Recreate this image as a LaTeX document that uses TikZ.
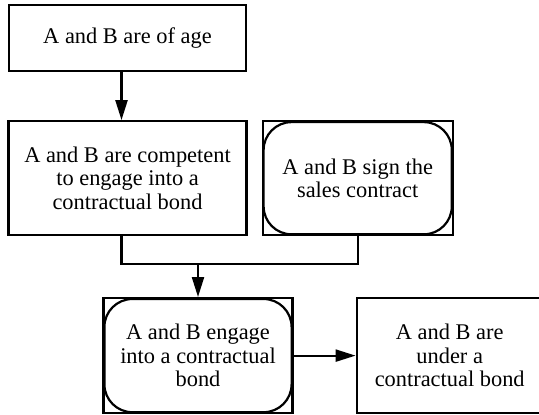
\documentclass[tikz,border=0pt]{standalone}
\usepackage{fontspec}
\setmainfont{Liberation Serif}
\newfontfamily\timesfont{Liberation Serif}
\usetikzlibrary{arrows.meta,positioning}
\tikzset{
        block/.style = {draw, rectangle, line width=1.1pt,
            align=center, inner sep=2pt,
            font=\timesfont\fontsize{11.2}{11.8}\selectfont},
        arrow/.style = {draw, line width=1.1pt,
            -{Triangle[length=10pt,width=6pt]}},
        inner/.style = {draw, line width=1.1pt, rounded corners=14pt},
    }

\begin{document}
\begin{tikzpicture}[x=0.5pt,y=-0.5pt]
        \useasboundingbox (0,0) rectangle (539,414);

        \node[block, minimum width=118.5pt, minimum height=33pt] (age) at (127.5,38) {A and B are of age};
        \node[block, below=24pt of age, minimum width=119pt, minimum height=57pt] (competent)
            {A and B are competent\\ to engage into a\\ contractual bond};
        \node[block, right=7pt of competent, minimum width=95pt, minimum height=57pt] (sign)
            {A and B sign the\\ sales contract};

        \coordinate (merge) at (198,264);

        \node[block, below=16.5pt of merge, minimum width=94.5pt, minimum height=57.5pt] (engage)
            {A and B engage\\ into a contractual\\ bond};
        \node[block, right=31pt of engage, minimum width=93pt, minimum height=57.5pt] (bond)
            {A and B are\\ under a\\ contractual bond};

        % rounded inner outlines
        \foreach \n in {sign,engage}
            \draw[inner] ([xshift=1pt,yshift=-1pt]\n.north west) rectangle ([xshift=-1pt,yshift=1pt]\n.south east);

        \draw[arrow] ([xshift=-3pt]age.south) -- ([xshift=-3pt]competent.north);
        \draw[line width=1.1pt] ([xshift=-3pt]competent.south) |- (merge) -| (sign.south);
        \draw[arrow] (merge) -- (engage);
        \draw[arrow] (engage) -- (bond);
    \end{tikzpicture}
\end{document}
